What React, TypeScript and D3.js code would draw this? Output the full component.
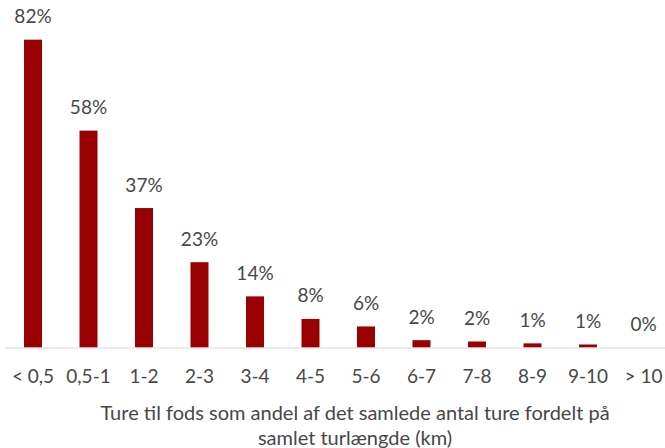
import React from "react";
import * as d3 from "d3";

const categories = ["< 0,5", "0,5-1", "1-2", "2-3", "3-4", "4-5", "5-6", "6-7", "7-8", "8-9", "9-10", "> 10"];
const shares = [81.9, 57.7, 37.1, 22.7, 13.6, 7.6, 5.6, 1.95, 1.6, 1.1, 0.8, 0];
const titleLines = ["Ture til fods som andel af det samlede antal ture fordelt på", "samlet turlængde (km)"];

const W = 665;
const H = 448;
const FONT = "Lato, 'Open Sans', sans-serif";
const TEXT = "#474747";

export default function App() {
  const x = d3
    .scaleBand<string>()
    .domain(categories)
    .range([5.25, 671.25])
    .paddingInner(0.676)
    .paddingOuter(0.338);
  const y = d3.scaleLinear().domain([0, 82]).range([347.5, 39.3]);
  const fmt = (v: number) => d3.format(".0f")(v) + "%";

  return (
    <svg
      width={W}
      height={H}
      style={{ position: "absolute", left: 0, top: 0, background: "#fff" }}
      fontFamily={FONT}
    >
      <rect width={W} height={H} fill="#fff" />
      {categories.map((c, i) => {
        const v = shares[i];
        const bx = x(c) as number;
        return (
          <g key={c}>
            {v > 0 && (
              <rect x={bx} y={y(v)} width={x.bandwidth()} height={y(0) - y(v)} fill="#990000" />
            )}
            <text
              x={bx + x.bandwidth() / 2}
              y={y(v) - 16.5}
              textAnchor="middle"
              fontSize={19}
              fill={TEXT}
            >
              {fmt(v)}
            </text>
            <text
              x={bx + x.bandwidth() / 2}
              y={383}
              textAnchor="middle"
              fontSize={19}
              fill={TEXT}
            >
              {c}
            </text>
          </g>
        );
      })}
      <line x1={5} x2={W} y1={y(0) + 0.5} y2={y(0) + 0.5} stroke="#d9d9d9" strokeWidth={1} />
      {titleLines.map((t, i) => (
        <text key={i} x={355} y={420 + i * 25} textAnchor="middle" fontSize={20} fill={TEXT}>
          {t}
        </text>
      ))}
    </svg>
  );
}
